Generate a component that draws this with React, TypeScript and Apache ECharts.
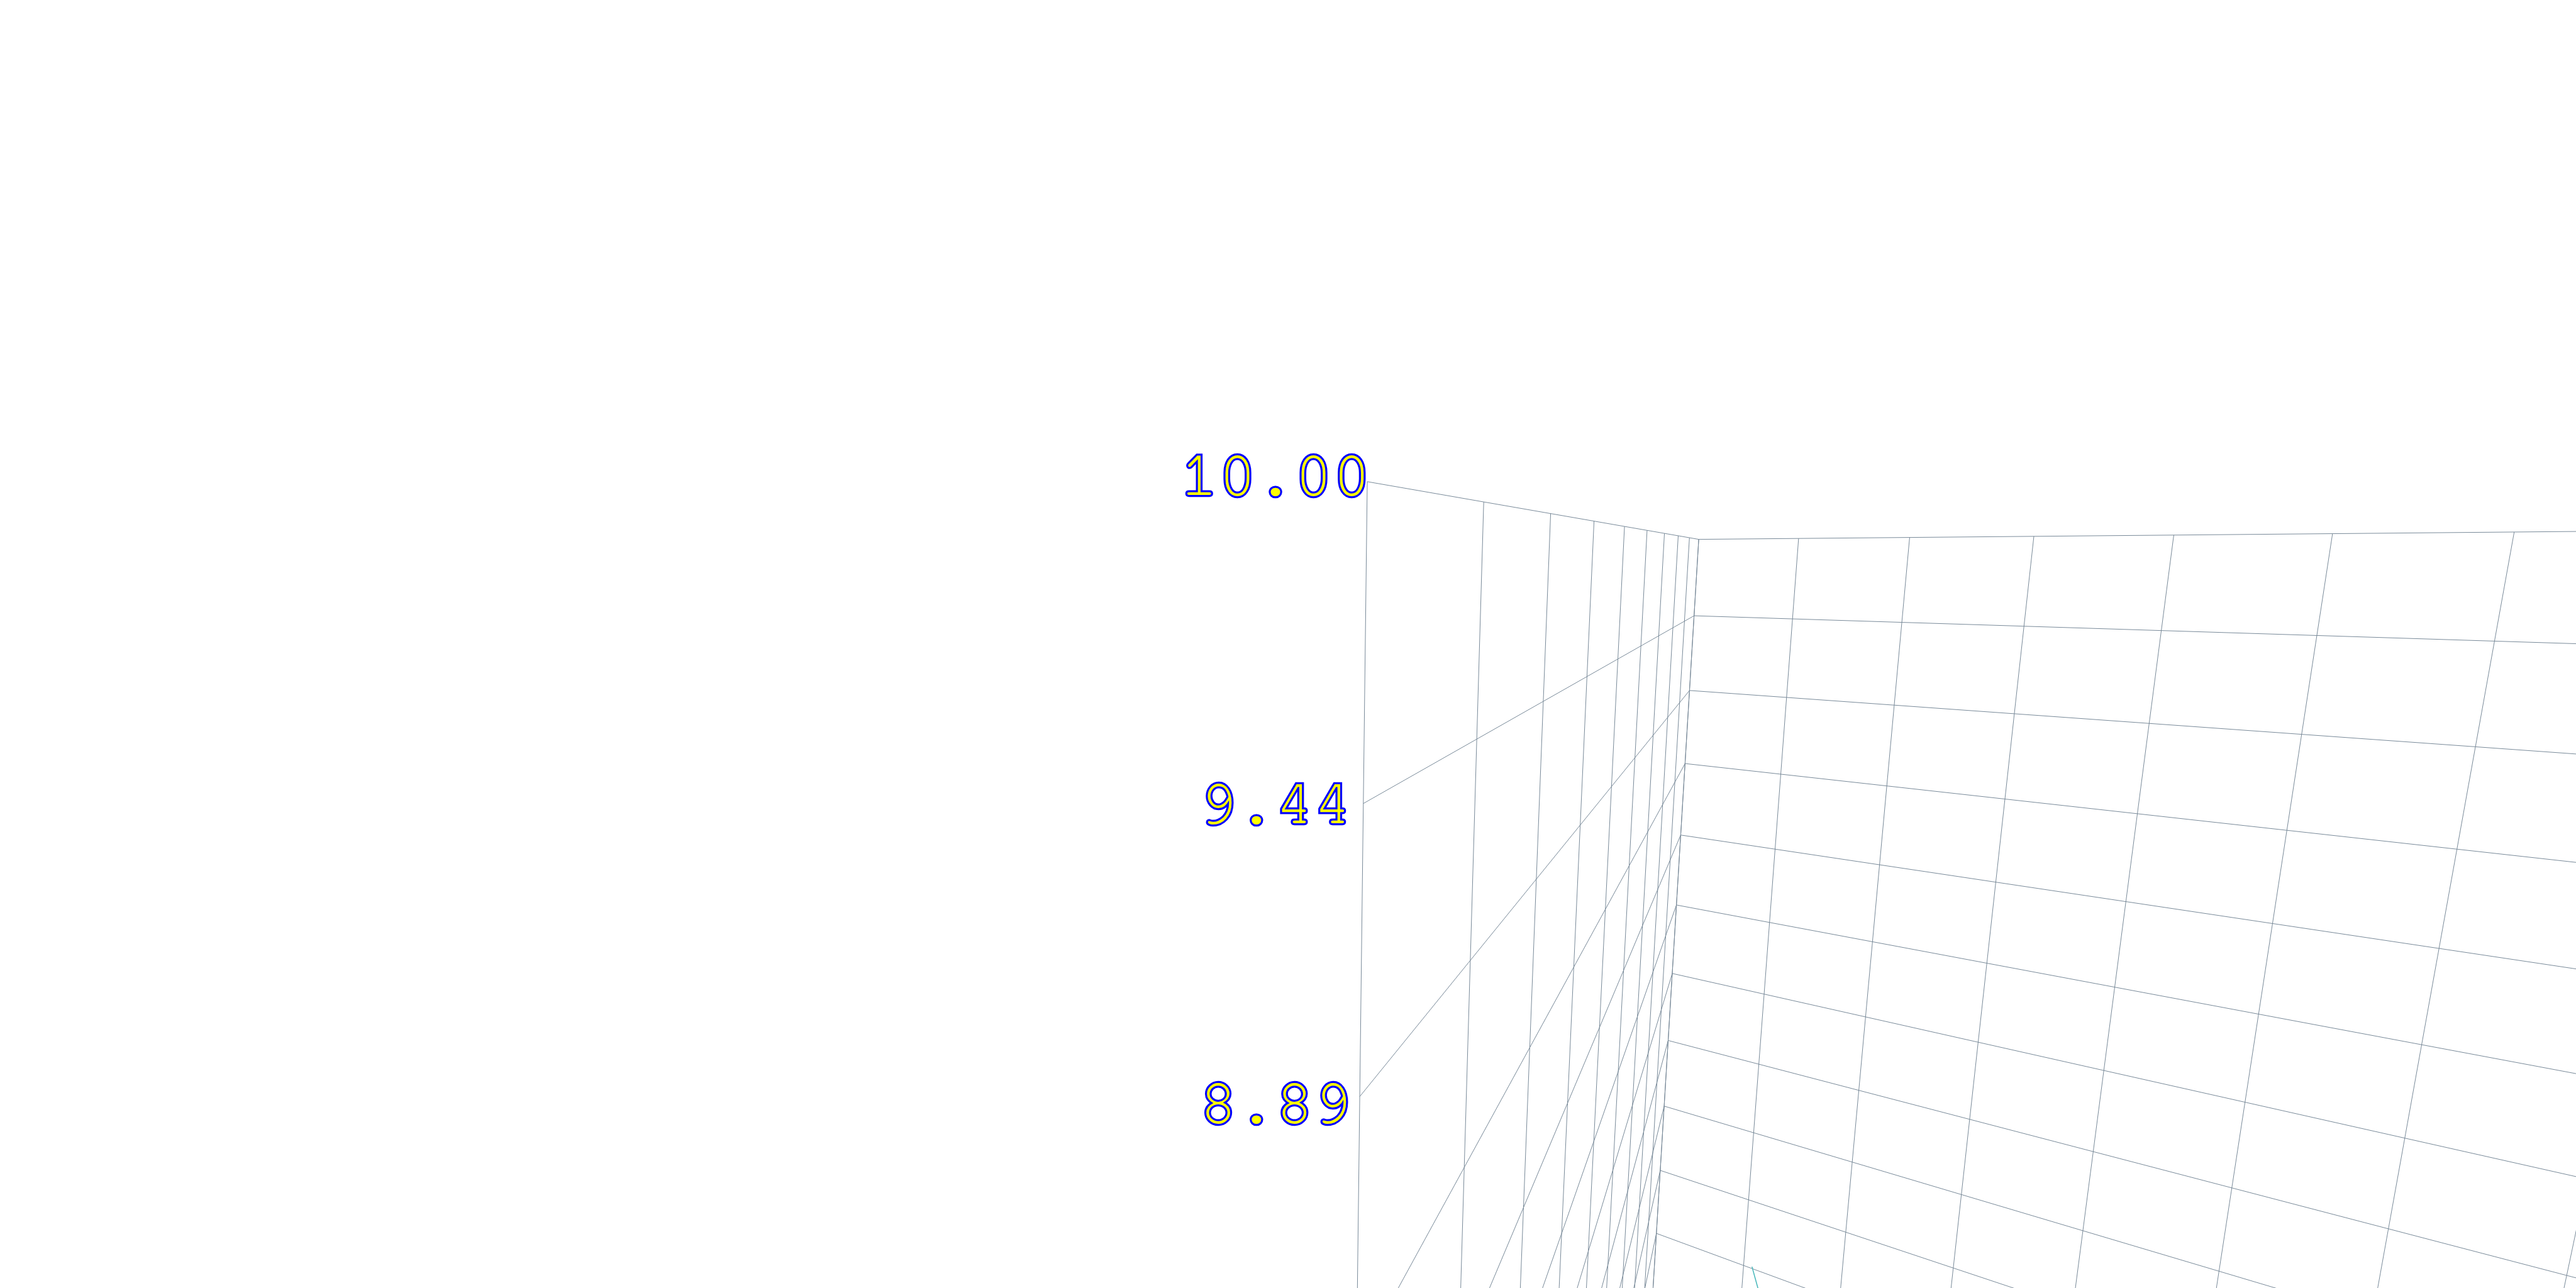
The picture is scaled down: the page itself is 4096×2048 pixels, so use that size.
import React, { useEffect, useRef } from "react";
import * as echarts from "echarts";

// ---- z axis of the 3D box ----
const Z_MAX = 10;
const Z_MIN = 0;
const Z_SPLITS = 18; // 0.556 per split -> 10.00, 9.44, 8.89 ...
const Z_TICK_LABELS = [
  "10.00", "9.44", "8.89", "8.33", "7.78", "7.22", "6.67", "6.11", "5.56", "5.00",
  "4.44", "3.89", "3.33", "2.78", "2.22", "1.67", "1.11", "0.56", "0.00",
];
// grid divisions of the two visible walls
const WALL_A_LINES = [0, 1, 2, 3, 4, 5, 6, 7, 8, 9]; // left wall: 0 = far corner, 9 = z axis
const WALL_B_LINES = [0, 1, 2, 3, 4, 5, 6, 7, 8]; // back wall: 0 = far corner

// ---- camera calibration: grid points [a, b, z] and where the reference shows them ----
const CALIB_WORLD: number[][] = [
  [9, 0, 10], [8, 0, 10], [7, 0, 10], [6, 0, 10], [5, 0, 10], [4, 0, 10], [3, 0, 10], [2, 0, 10], [1, 0, 10], [0, 0, 10],
  [9, 0, 9.444], [9, 0, 8.889],
  [0, 0, 9.444], [0, 0, 8.889], [0, 0, 8.333], [0, 0, 7.778], [0, 0, 7.222], [0, 0, 6.667], [0, 0, 6.111], [0, 0, 5.556], [0, 0, 5.0],
  [0, 1, 10], [0, 2, 10], [0, 3, 10], [0, 4, 10], [0, 5, 10], [0, 6, 10], [0, 6, 8.889],
];
const CALIB_SCREEN: number[][] = [
  [2173, 766], [2359, 798], [2466, 817], [2534, 829], [2583, 837], [2619, 843], [2647, 848], [2668, 852], [2687, 855], [2701, 858],
  [2168, 1277], [2163, 1744],
  [2693, 979], [2687, 1098], [2679, 1214], [2674, 1328], [2665, 1439], [2659, 1548], [2652, 1654], [2646, 1759], [2640, 1861],
  [2859, 856], [3037, 854], [3234, 853], [3456, 851], [3709, 849], [3998, 846], [3936, 1187],
];

// data line (only a short piece is visible at the bottom)
const TEAL_A = [0, 0];
const TEAL_B = [1.09, 1.22];
const TEAL_Z = [4.46, 4.2];

const LINE_COLOR = "#798a99";
const TEAL_COLOR = "#45b6b9";
const LABEL_FILL = "#ffff00";
const LABEL_STROKE = "#0000ff";
const LABEL_FONT = "FreeMono, 'TeX Gyre Cursor', 'Liberation Mono', monospace";

function normW(a: number, b: number, z: number) {
  return [a / 9, b / 6, (z - 7.5) / 2.5];
}

function solveLinear(M: number[][]): number[] {
  const n = M.length;
  for (let c = 0; c < n; c++) {
    let piv = c;
    for (let r = c + 1; r < n; r++) if (Math.abs(M[r][c]) > Math.abs(M[piv][c])) piv = r;
    const tmp = M[c]; M[c] = M[piv]; M[piv] = tmp;
    for (let r = 0; r < n; r++) {
      if (r === c) continue;
      const f = M[r][c] / M[c][c];
      for (let k = c; k <= n; k++) M[r][k] -= f * M[c][k];
    }
  }
  return M.map((row, i) => row[n] / row[i]);
}

function fitCamera(): number[] {
  const n = 11;
  const M = Array.from({ length: n }, () => new Array(n + 1).fill(0));
  const add = (row: number[], rhs: number) => {
    for (let i = 0; i < n; i++) {
      for (let j = 0; j < n; j++) M[i][j] += row[i] * row[j];
      M[i][n] += row[i] * rhs;
    }
  };
  CALIB_WORLD.forEach((wp, i) => {
    const [X, Y, Z] = normW(wp[0], wp[1], wp[2]);
    const xn = (CALIB_SCREEN[i][0] - 2048) / 1000;
    const yn = (CALIB_SCREEN[i][1] - 1024) / 1000;
    add([X, Y, Z, 1, 0, 0, 0, 0, -xn * X, -xn * Y, -xn * Z], xn);
    add([0, 0, 0, 0, X, Y, Z, 1, -yn * X, -yn * Y, -yn * Z], yn);
  });
  return solveLinear(M);
}

function makeProjector(p: number[]) {
  return (a: number, b: number, z: number) => {
    const [X, Y, Z] = normW(a, b, z);
    const w = p[8] * X + p[9] * Y + p[10] * Z + 1;
    const u = (p[0] * X + p[1] * Y + p[2] * Z + p[3]) / w;
    const v = (p[4] * X + p[5] * Y + p[6] * Z + p[7]) / w;
    return { x: u * 1000 + 2048, y: v * 1000 + 1024, w };
  };
}

export default function App() {
  const ref = useRef<HTMLDivElement>(null);
  useEffect(() => {
    document.body.style.margin = "0";
    if (!ref.current) return;
    const chart = echarts.init(ref.current, undefined, { renderer: "svg" });
    const proj = makeProjector(fitCamera());
    const zTicks = Z_TICK_LABELS.map((_, k) => Z_MAX - (k * (Z_MAX - Z_MIN)) / Z_SPLITS);
    const aMax = WALL_A_LINES[WALL_A_LINES.length - 1];
    const bMax = WALL_B_LINES[WALL_B_LINES.length - 1];

    const elements: any[] = [];
    const seg = (p0: number[], p1: number[], color: string, width: number) => {
      let A = proj(p0[0], p0[1], p0[2]);
      let B = proj(p1[0], p1[1], p1[2]);
      const eps = 0.02;
      if (A.w <= eps && B.w <= eps) return;
      if (A.w <= eps || B.w <= eps) {
        const t = (eps - A.w) / (B.w - A.w);
        const q = [0, 1, 2].map((i) => p0[i] + (p1[i] - p0[i]) * t);
        const C = proj(q[0], q[1], q[2]);
        if (A.w <= eps) A = C; else B = C;
      }
      elements.push({
        type: "line",
        silent: true,
        shape: { x1: A.x, y1: A.y, x2: B.x, y2: B.y },
        style: { stroke: color, lineWidth: width },
      });
    };

    // left wall (b = 0)
    WALL_A_LINES.forEach((a) => seg([a, 0, Z_MIN], [a, 0, Z_MAX], LINE_COLOR, 1));
    zTicks.forEach((z) => seg([0, 0, z], [aMax, 0, z], LINE_COLOR, 1));
    // back wall (a = 0)
    WALL_B_LINES.forEach((b) => seg([0, b, Z_MIN], [0, b, Z_MAX], LINE_COLOR, 1));
    zTicks.forEach((z) => seg([0, 0, z], [0, bMax, z], LINE_COLOR, 1));

    // data line
    for (let i = 0; i + 1 < TEAL_A.length; i++) {
      seg([TEAL_A[i], TEAL_B[i], TEAL_Z[i]], [TEAL_A[i + 1], TEAL_B[i + 1], TEAL_Z[i + 1]], TEAL_COLOR, 1.5);
    }

    // z axis labels: blue halo underneath, yellow glyphs on top
    const top = proj(aMax, 0, Z_MAX);
    const labelX = top.x - 146;
    zTicks.forEach((z, k) => {
      const p = proj(aMax, 0, z);
      const y = 880 + (p.y - 880) * 1.021 - 7;
      const base = {
        text: Z_TICK_LABELS[k],
        fontFamily: LABEL_FONT,
        fontSize: 101,
        textAlign: "center",
        textVerticalAlign: "middle",
        align: "center",
        verticalAlign: "middle",
      };
      elements.push({
        type: "text",
        silent: true,
        x: labelX,
        y,
        style: { ...base, fill: LABEL_STROKE, stroke: LABEL_STROKE, lineWidth: 6.5 },
      });
      elements.push({
        type: "text",
        silent: true,
        x: labelX,
        y,
        style: { ...base, fill: LABEL_FILL },
      });
    });

    chart.setOption({
      animation: false,
      backgroundColor: "#ffffff",
      graphic: { elements },
    });
    return () => chart.dispose();
  }, []);
  return <div ref={ref} style={{ width: 4096, height: 2048 }} />;
}
